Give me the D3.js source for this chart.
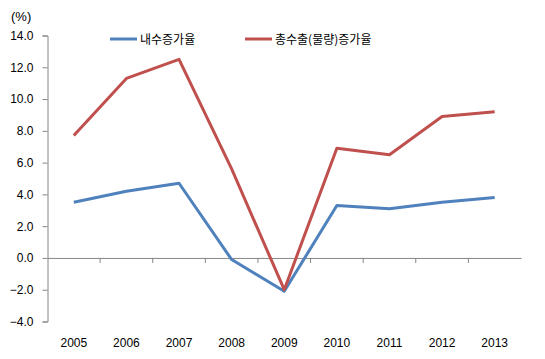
<!DOCTYPE html>
<html><head><meta charset="utf-8">
<script src="https://cdn.jsdelivr.net/npm/d3@7"></script>
<style>body{margin:0;background:#fff}svg{display:block}</style>
</head><body>
<svg id="c" width="545" height="359"></svg>
<script>
const years = ["2005","2006","2007","2008","2009","2010","2011","2012","2013"];
const domestic = [3.5, 4.2, 4.7, -0.1, -2.1, 3.3, 3.1, 3.5, 3.8];
const exportsVol = [7.7, 11.3, 12.5, 5.6, -2.0, 6.9, 6.5, 8.9, 9.2];
const yTicks = [-4, -2, 0, 2, 4, 6, 8, 10, 12, 14];
const seriesNames = ["내수증가율", "총수출(물량)증가율"];
const colors = ["#4F81BD", "#C0504D"];

const svg = d3.select("#c");
const x = d3.scaleBand().domain(years).range([47.5, 521]);
const y = d3.scaleLinear().domain([-4, 14]).range([321.5, 35.5]);
const font = "'Liberation Sans', Arial, sans-serif";
const axisColor = "#868686";

// y axis
const ya = svg.append("g").attr("transform","translate(47.5,0)")
  .call(d3.axisLeft(y).tickValues(yTicks).tickSize(5).tickFormat(d3.format(".1f")));
ya.select(".domain").attr("stroke", axisColor);
ya.selectAll(".tick line").attr("stroke", axisColor);
ya.selectAll(".tick text").attr("font-family", font).attr("font-size", 12).attr("fill","#000").attr("x",-14);

// x axis at zero
const xa = svg.append("g").attr("transform",`translate(0,${y(0)})`)
  .call(d3.axisBottom(x).tickSize(0).tickFormat(""));
xa.select(".domain").attr("stroke", axisColor);
// tick marks at band boundaries
svg.append("g").selectAll("line").data(years.slice(1)).join("line")
  .attr("x1", d => x(d)).attr("x2", d => x(d))
  .attr("y1", y(0)).attr("y2", y(0)+5).attr("stroke", axisColor);

// x labels at bottom
svg.append("g").selectAll("text").data(years).join("text")
  .attr("x", d => x(d) + x.bandwidth()/2).attr("y", 347)
  .attr("text-anchor","middle").attr("font-family", font).attr("font-size", 12)
  .text(d => d);

// unit
svg.append("text").attr("x", 11).attr("y", 21).attr("font-family", font).attr("font-size", 13).text("(%)");

// lines
const line = d3.line().x((d,i)=> x(years[i]) + x.bandwidth()/2).y(d => y(d));
[domestic, exportsVol].forEach((s, k) => {
  svg.append("path").datum(s).attr("d", line).attr("fill","none")
    .attr("stroke", colors[k]).attr("stroke-width", 3).attr("stroke-linejoin","round");
});

// legend
const legX = [110, 245];
seriesNames.forEach((n, k) => {
  svg.append("line").attr("x1", legX[k]).attr("x2", legX[k]+27).attr("y1", 39).attr("y2", 39)
    .attr("stroke", colors[k]).attr("stroke-width", 3);
  svg.append("text").attr("x", legX[k]+30).attr("y", 44)
    .attr("font-family", "'Noto Sans CJK KR', sans-serif").attr("font-size", 12).text(n);
});
</script>
</body></html>
